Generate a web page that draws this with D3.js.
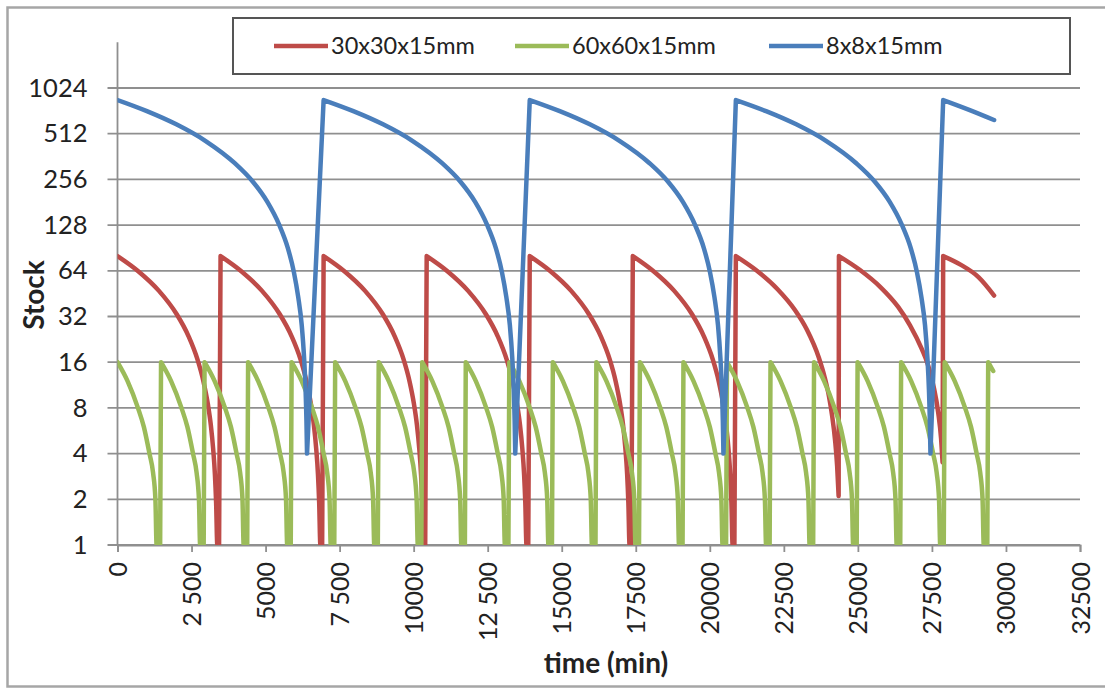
<!DOCTYPE html>
<html><head><meta charset="utf-8">
<script src="https://cdn.jsdelivr.net/npm/d3@7"></script>
<style>html,body{margin:0;padding:0;background:#fff;} svg{display:block;font-family:Lato,"Open Sans",sans-serif;}</style>
</head><body><div id="chart"></div>
<script>
// ---------------- data ----------------
const seriesNames = ["30x30x15mm", "60x60x15mm", "8x8x15mm"];
const seriesColors = ["#BE4B48", "#9BBB59", "#4A7EBB"];
const yTickValues = [1, 2, 4, 8, 16, 32, 64, 128, 256, 512, 1024];
const xTickValues = [0, 2500, 5000, 7500, 10000, 12500, 15000, 17500, 20000, 22500, 25000, 27500, 30000, 32500];
const xTickLabels = ["0", "2 500", "5000", "7 500", "10000", "12 500", "15000", "17500", "20000", "22500", "25000", "27500", "30000", "32500"];
const yTitle = "Stock";
const xTitle = "time (min)";

// [time (min), stock]
const stock30 = [
  [0,80],[700,63.6],[1400,47.2],[2000,33.1],[2400,23.7],[2700,16.7],[2900,12],[3050,8.5],[3150,6.2],[3230,4.3],[3290,2.9],[3330,1.9],[3370,1],[3430,1],
  [3480,80],[4180,63.6],[4880,47.2],[5480,33.1],[5880,23.7],[6180,16.7],[6380,12],[6530,8.5],[6630,6.2],[6710,4.3],[6770,2.9],[6810,1.9],[6850,1],[6910,1],
  [6960,80],[7660,63.6],[8360,47.2],[8960,33.1],[9360,23.7],[9660,16.7],[9860,12],[10010,8.5],[10110,6.2],[10190,4.3],[10250,2.9],[10290,1.9],[10330,1],[10390,1],
  [10440,80],[11140,63.6],[11840,47.2],[12440,33.1],[12840,23.7],[13140,16.7],[13340,12],[13490,8.5],[13590,6.2],[13670,4.3],[13730,2.9],[13770,1.9],[13810,1],[13870,1],
  [13920,80],[14620,63.6],[15320,47.2],[15920,33.1],[16320,23.7],[16620,16.7],[16820,12],[16970,8.5],[17070,6.2],[17150,4.3],[17210,2.9],[17250,1.9],[17290,1],[17350,1],
  [17400,80],[18100,63.6],[18800,47.2],[19400,33.1],[19800,23.7],[20100,16.7],[20300,12],[20450,8.5],[20550,6.2],[20630,4.3],[20690,2.9],[20730,1.9],[20770,1],[20830,1],
  [20880,80],[21580,64.3],[22280,48.6],[22880,35.2],[23280,26.2],[23680,17.2],[23880,12.7],[24030,9.4],[24130,7.1],[24230,4.9],[24300,3.3],[24350,2.1],
  [24360,80],[25060,65],[25760,50],[26360,37],[26760,28],[27160,19.5],[27360,15.5],[27560,11],[27710,7.5],[27810,5],[27860,3.5],
  [27880,80],[28480,70],[29080,58],[29600,44]
];

const stock60 = [
  [0,16],[340,12],[690,8],[890,6],[1080,4],[1200,3],[1280,2],[1320,1],[1440,1],
  [1470,16],[1810,12],[2160,8],[2360,6],[2550,4],[2670,3],[2750,2],[2790,1],[2910,1],
  [2940,16],[3280,12],[3630,8],[3830,6],[4020,4],[4140,3],[4220,2],[4260,1],[4380,1],
  [4410,16],[4750,12],[5100,8],[5300,6],[5490,4],[5610,3],[5690,2],[5730,1],[5850,1],
  [5880,16],[6220,12],[6570,8],[6770,6],[6960,4],[7080,3],[7160,2],[7200,1],[7320,1],
  [7350,16],[7690,12],[8040,8],[8240,6],[8430,4],[8550,3],[8630,2],[8670,1],[8790,1],
  [8820,16],[9160,12],[9510,8],[9710,6],[9900,4],[10020,3],[10100,2],[10140,1],[10260,1],
  [10290,16],[10630,12],[10980,8],[11180,6],[11370,4],[11490,3],[11570,2],[11610,1],[11730,1],
  [11760,16],[12100,12],[12450,8],[12650,6],[12840,4],[12960,3],[13040,2],[13080,1],[13200,1],
  [13230,16],[13570,12],[13920,8],[14120,6],[14310,4],[14430,3],[14510,2],[14550,1],[14670,1],
  [14700,16],[15040,12],[15390,8],[15590,6],[15780,4],[15900,3],[15980,2],[16020,1],[16140,1],
  [16170,16],[16510,12],[16860,8],[17060,6],[17250,4],[17370,3],[17450,2],[17490,1],[17610,1],
  [17640,16],[17980,12],[18330,8],[18530,6],[18720,4],[18840,3],[18920,2],[18960,1],[19080,1],
  [19110,16],[19450,12],[19800,8],[20000,6],[20190,4],[20310,3],[20390,2],[20430,1],[20550,1],
  [20580,16],[20920,12],[21270,8],[21470,6],[21660,4],[21780,3],[21860,2],[21900,1],[22020,1],
  [22050,16],[22390,12],[22740,8],[22940,6],[23130,4],[23250,3],[23330,2],[23370,1],[23490,1],
  [23520,16],[23860,12],[24210,8],[24410,6],[24600,4],[24720,3],[24800,2],[24840,1],[24960,1],
  [24990,16],[25330,12],[25680,8],[25880,6],[26070,4],[26190,3],[26270,2],[26310,1],[26430,1],
  [26460,16],[26800,12],[27150,8],[27350,6],[27540,4],[27660,3],[27740,2],[27780,1],[27900,1],
  [27930,16],[28270,12],[28620,8],[28820,6],[29010,4],[29130,3],[29210,2],[29250,1],[29370,1],
  [29400,16],[29570,14]
];

const stock8 = [
  [0,853],[992,721],[1985,590],[2977,458],[3969,326],[4564,248],[5060,182],[5457,129],[5755,90],[5954,63],[6102,43],[6221,28],[6301,17],[6350,10.6],[6380,6.6],[6400,4],
  [6960,853],[7963,721],[8966,590],[9969,458],[10972,326],[11574,248],[12076,182],[12477,129],[12778,90],[12979,63],[13129,43],[13249,28],[13330,17],[13380,10.6],[13410,6.6],[13430,4],
  [13920,853],[14934,721],[15948,590],[16962,458],[17976,326],[18584,248],[19091,182],[19497,129],[19801,90],[20004,63],[20156,43],[20277,28],[20358,17],[20409,10.6],[20440,6.6],[20460,4],
  [20880,853],[21899,721],[22917,590],[23936,458],[24954,326],[25566,248],[26075,182],[26482,129],[26788,90],[26992,63],[27144,43],[27267,28],[27348,17],[27399,10.6],[27430,6.6],[27450,4],
  [27880,853],[28800,730],[29600,630]
];

const seriesData = [stock30, stock60, stock8];

// ---------------- chart ----------------
const W = 1105, H = 691;
const plot = {left: 117.5, right: 1080, top: 42.3, bottom: 545};
const gridColor = "#8f8f8f";
const textColor = "#222";

const svg = d3.select("#chart").append("svg").attr("width", W).attr("height", H);

// outer chart border
svg.append("rect").attr("x", 7.5).attr("y", 7.5).attr("width", 1102).attr("height", 679)
  .attr("fill", "#fff").attr("stroke", "#a6a6a6").attr("stroke-width", 2.5);

const x = d3.scaleLinear().domain([0, 32500]).range([plot.left, plot.right]);
const y = d3.scaleLog().base(2).domain([1, 2048]).range([plot.bottom, plot.top]);

// gridlines (with outside tick extension)
svg.append("g").selectAll("line").data(yTickValues).join("line")
  .attr("x1", plot.left - 10).attr("x2", plot.right)
  .attr("y1", d => y(d)).attr("y2", d => y(d))
  .attr("stroke", gridColor).attr("stroke-width", 1.8);

// y axis
const yAxis = svg.append("g").attr("transform", `translate(${plot.left},0)`)
  .call(d3.axisLeft(y).tickValues(yTickValues).tickFormat(d => String(d)).tickSize(0).tickPadding(30));
yAxis.select(".domain").remove();
yAxis.selectAll("text").attr("font-size", 25.5).attr("fill", textColor).attr("font-family", "Lato");
svg.append("line").attr("x1", plot.left).attr("x2", plot.left).attr("y1", plot.top).attr("y2", plot.bottom)
  .attr("stroke", gridColor).attr("stroke-width", 1.8);

// x axis
const xAxis = svg.append("g").attr("transform", `translate(0,${plot.bottom})`)
  .call(d3.axisBottom(x).tickValues(xTickValues).tickFormat((d, i) => xTickLabels[i]).tickSize(7));
xAxis.select(".domain").attr("stroke", gridColor).attr("stroke-width", 1.8);
xAxis.selectAll(".tick line").attr("stroke", gridColor).attr("stroke-width", 1.8);
xAxis.selectAll("text")
  .attr("transform", "rotate(-90)").attr("x", -17).attr("y", 0).attr("dy", "0.36em")
  .style("text-anchor", "end").attr("font-size", 25).attr("fill", textColor).attr("font-family", "Lato");

// clip
svg.append("clipPath").attr("id", "clip").append("rect")
  .attr("x", plot.left).attr("y", 0).attr("width", plot.right - plot.left).attr("height", plot.bottom);

// each falling run is drawn smooth (monotone), replenishments are straight jumps
const runLine = d3.line().x(d => x(d[0])).y(d => y(d[1])).curve(d3.curveMonotoneX);
function seriesPath(data) {
  const runs = [];
  let cur = [data[0]];
  for (let i = 1; i < data.length; i++) {
    if (data[i][1] > data[i - 1][1]) { runs.push(cur); cur = [data[i]]; }
    else cur.push(data[i]);
  }
  runs.push(cur);
  return runs.map((r, k) => { const s = runLine(r); return k === 0 ? s : "L" + s.slice(1); }).join("");
}

const gSeries = svg.append("g").attr("clip-path", "url(#clip)");
seriesData.forEach((data, i) => {
  gSeries.append("path").attr("d", seriesPath(data))
    .attr("fill", "none").attr("stroke", seriesColors[i]).attr("stroke-width", 4.5)
    .attr("stroke-linejoin", "round").attr("stroke-linecap", "round");
});

// axis titles
svg.append("text").attr("transform", "translate(44,295) rotate(-90)")
  .attr("text-anchor", "middle").attr("font-size", 28).attr("font-weight", "bold").attr("fill", textColor)
  .text(yTitle);
svg.append("text").attr("x", 606).attr("y", 673)
  .attr("text-anchor", "middle").attr("font-size", 28).attr("font-weight", "bold").attr("fill", textColor)
  .text(xTitle);

// legend
const legend = svg.append("g");
legend.append("rect").attr("x", 233).attr("y", 18).attr("width", 837).attr("height", 56)
  .attr("fill", "#fff").attr("stroke", "#555").attr("stroke-width", 2);
const legendX = [274, 515, 769];
seriesNames.forEach((name, i) => {
  const g = legend.append("g").attr("transform", `translate(${legendX[i]},46)`);
  g.append("line").attr("x1", 0).attr("x2", 54).attr("y1", 0).attr("y2", 0)
    .attr("stroke", seriesColors[i]).attr("stroke-width", 4.5);
  g.append("text").attr("x", 57).attr("y", 0).attr("dy", "0.36em")
    .attr("font-size", 23.5).attr("fill", textColor).text(name);
});
</script>
</body></html>
